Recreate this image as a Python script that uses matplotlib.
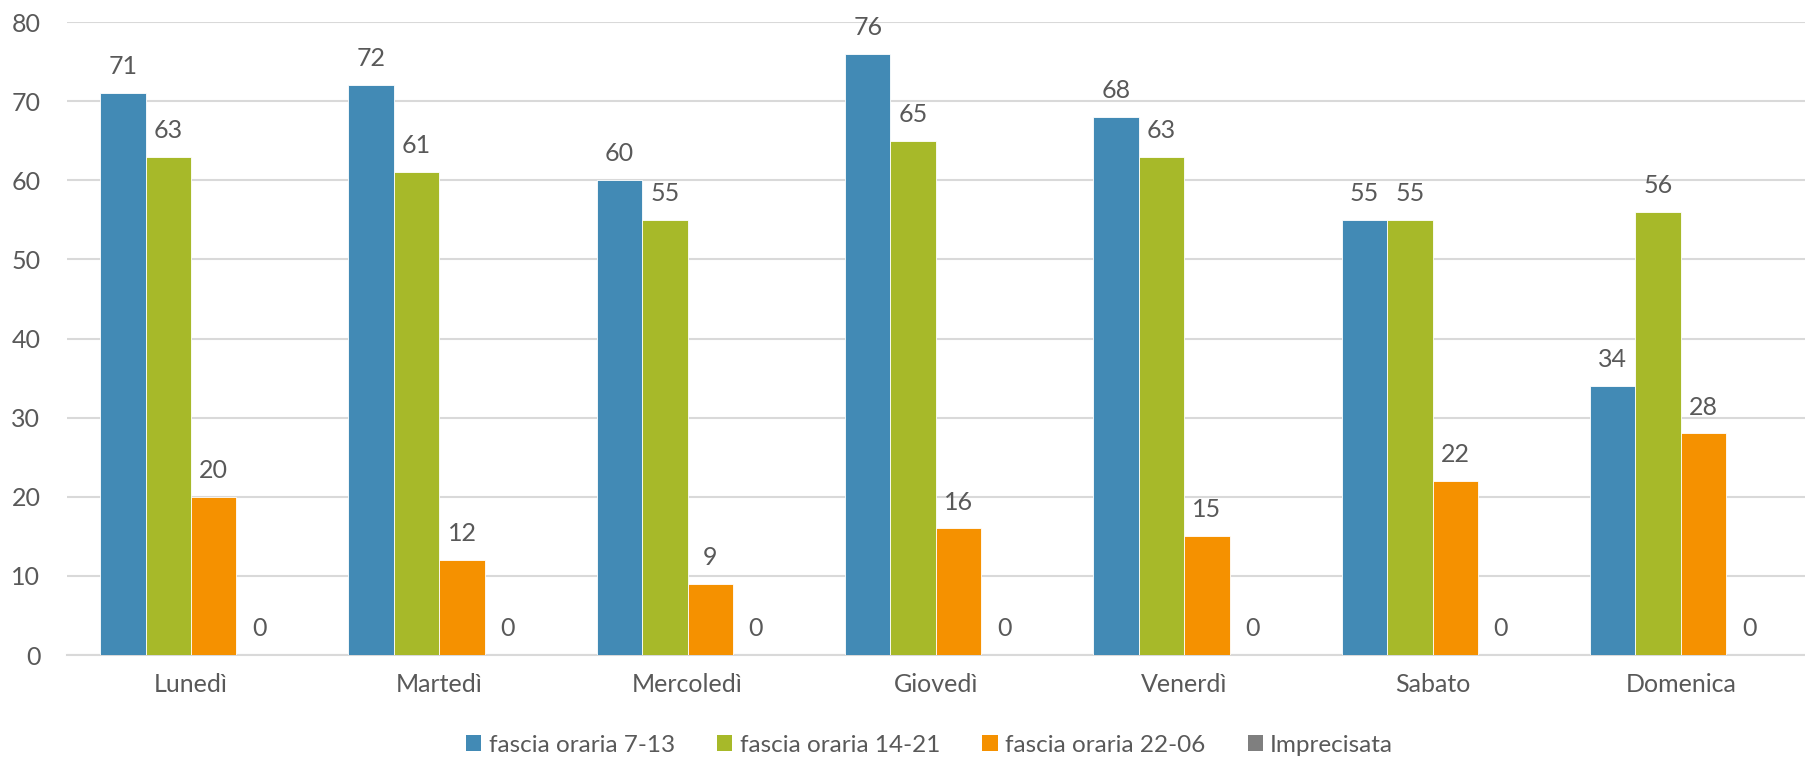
import matplotlib.pyplot as plt
import numpy as np
from matplotlib.patches import Patch

# -----------------------------------------------------------------------------
# Data
# -----------------------------------------------------------------------------
DAYS = ["Lunedì", "Martedì", "Mercoledì", "Giovedì", "Venerdì", "Sabato", "Domenica"]
SERIES_NAMES = ["fascia oraria 7-13", "fascia oraria 14-21", "fascia oraria 22-06", "Imprecisata"]
FASCIA_7_13 = [71, 72, 60, 76, 68, 55, 34]
FASCIA_14_21 = [63, 61, 55, 65, 63, 55, 56]
FASCIA_22_06 = [20, 12, 9, 16, 15, 22, 28]
IMPRECISATA = [0, 0, 0, 0, 0, 0, 0]
Y_TICKS = [0, 10, 20, 30, 40, 50, 60, 70, 80]

COLOURS = ["#428AB5", "#A7B929", "#F59100", "#7F7F7F"]
TEXT = "#595959"
GRID = "#D9D9D9"

plt.rcParams['font.family'] = ['Lato', 'DejaVu Sans']

fig = plt.figure(figsize=(18.05, 7.59), dpi=100)
ax = fig.add_axes([0.037, 0.137, 0.963, 0.834])

x = np.arange(len(DAYS))
width = 0.183
values = [FASCIA_7_13, FASCIA_14_21, FASCIA_22_06, IMPRECISATA]
for i, (vals, col) in enumerate(zip(values, COLOURS)):
    pos = x + (i - 1.5) * width
    ax.bar(pos, vals, width, color=col, edgecolor="white", linewidth=0.6, zorder=3)
    for px, v in zip(pos, vals):
        ax.annotate(f"{v}", (px, v), xytext=(0, 19), textcoords="offset points",
                    ha="center", va="center", fontsize=18, color=TEXT)

ax.set_xlim(-0.5, len(DAYS) - 0.5)
ax.set_ylim(0, 80)
ax.set_yticks(Y_TICKS)
ax.set_xticks(x)
ax.set_xticklabels(DAYS)
ax.grid(axis="y", color=GRID, linewidth=1.5, zorder=0)
ax.tick_params(axis="both", length=0, labelsize=18, labelcolor=TEXT)
ax.tick_params(axis="y", pad=19)
ax.tick_params(axis="x", pad=13)
for s in ["top", "right", "left"]:
    ax.spines[s].set_visible(False)
ax.spines["bottom"].set_color(GRID)
ax.spines["bottom"].set_linewidth(1.5)

handles = [Patch(facecolor=c, edgecolor="none") for c in COLOURS]
fig.legend(handles, SERIES_NAMES, loc="center", bbox_to_anchor=(0.515, 0.018),
           ncol=4, frameon=False, fontsize=17.5, labelcolor=TEXT,
           handlelength=0.62, handleheight=0.62, handletextpad=0.3, columnspacing=1.75)

fig.savefig("out.png", dpi=100)
